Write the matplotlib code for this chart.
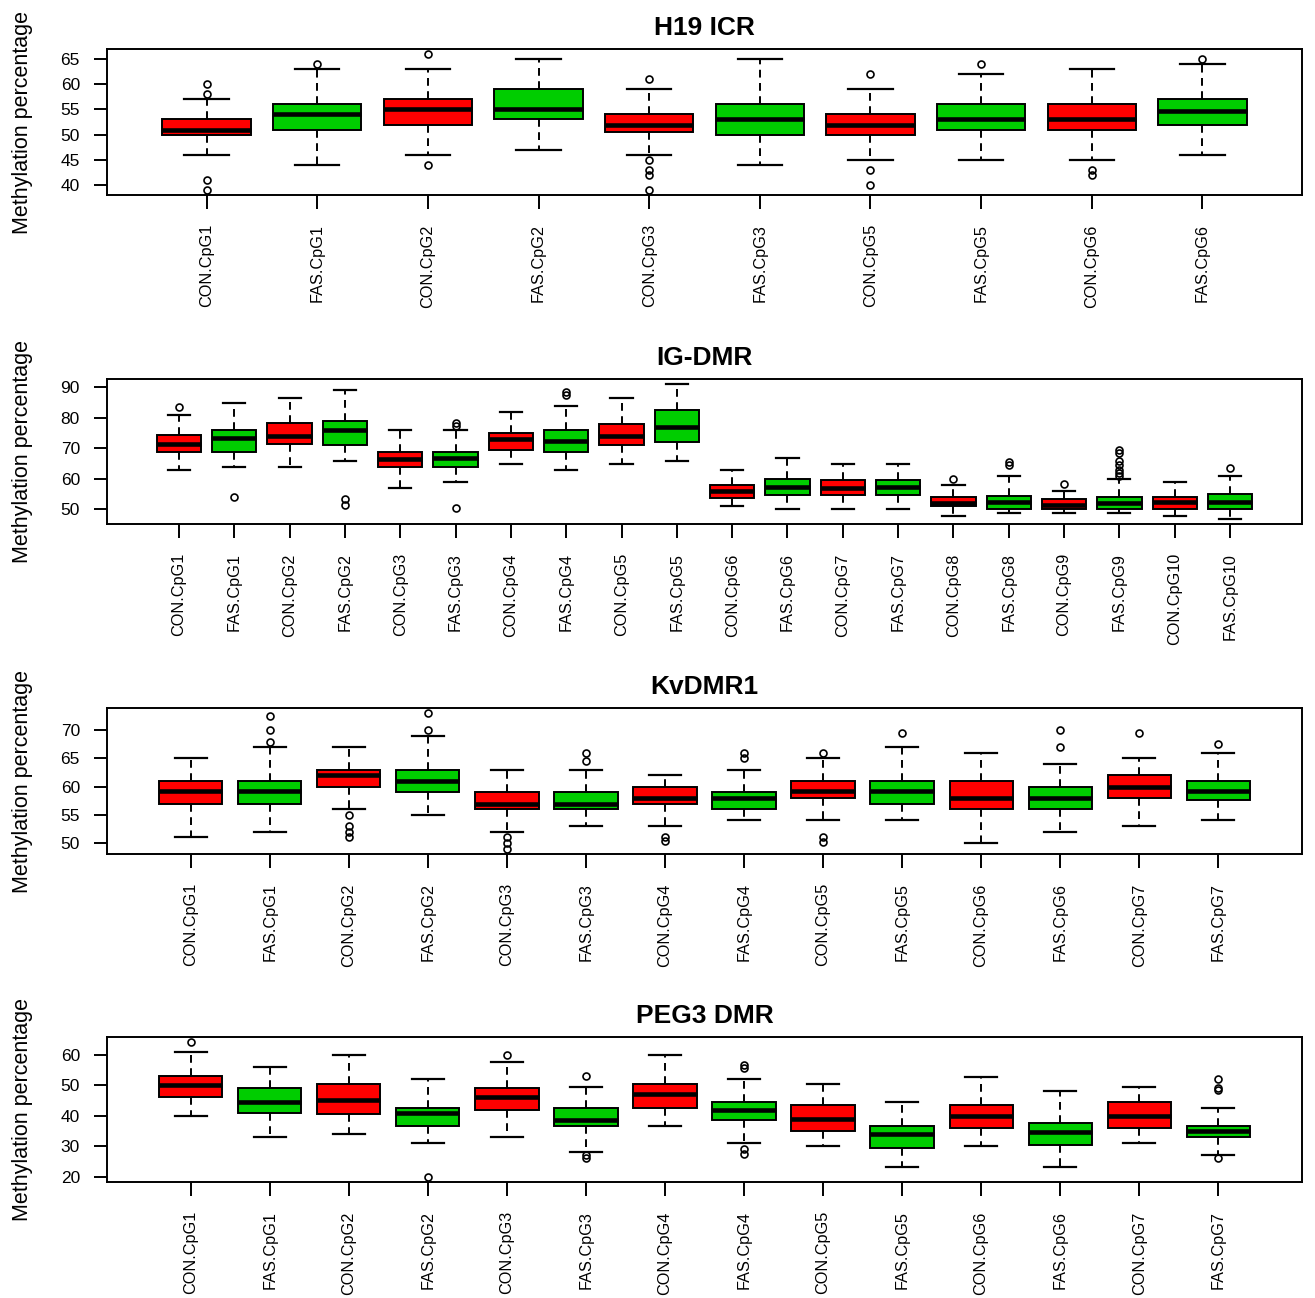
import matplotlib
matplotlib.use('Agg')
import matplotlib.pyplot as plt
from matplotlib.ticker import MultipleLocator

plt.rcParams['font.family'] = ['Liberation Sans', 'DejaVu Sans']

RED = '#FF0000'
GREEN = '#00CD00'

# ---------------- H19 ICR ----------------
h19_labels = ['CON.CpG1', 'FAS.CpG1', 'CON.CpG2', 'FAS.CpG2', 'CON.CpG3',
              'FAS.CpG3', 'CON.CpG5', 'FAS.CpG5', 'CON.CpG6', 'FAS.CpG6']
h19_whislo = [46, 44, 46, 47, 46, 44, 45, 45, 45, 46]
h19_q1 = [50, 51, 52, 53, 50.5, 50, 50, 51, 51, 52]
h19_med = [51, 54, 55, 55, 52, 53, 52, 53, 53, 54.7]
h19_q3 = [53, 56, 57, 59, 54, 56, 54, 56, 56, 57]
h19_whishi = [57, 63, 63, 65, 59, 65, 59, 62, 63, 64]
h19_fliers = [[60, 58, 41, 39], [64], [66, 44], [], [61, 45, 43, 42, 39],
              [], [62, 43, 40], [64], [43, 42], [65]]

# ---------------- IG-DMR ----------------
ig_labels = ['CON.CpG1', 'FAS.CpG1', 'CON.CpG2', 'FAS.CpG2', 'CON.CpG3',
             'FAS.CpG3', 'CON.CpG4', 'FAS.CpG4', 'CON.CpG5', 'FAS.CpG5',
             'CON.CpG6', 'FAS.CpG6', 'CON.CpG7', 'FAS.CpG7', 'CON.CpG8',
             'FAS.CpG8', 'CON.CpG9', 'FAS.CpG9', 'CON.CpG10', 'FAS.CpG10']
ig_whislo = [63, 64, 64, 66, 57, 59, 65, 63, 65, 66, 51, 50, 50, 50, 48, 49, 49, 49, 48, 47]
ig_q1 = [69, 69, 71.5, 71, 64, 64, 69.5, 69, 71, 72, 53.7, 54.7, 54.7, 54.7, 51, 50, 50, 50, 50, 50]
ig_med = [71.5, 73.5, 74, 76, 66.5, 67, 73, 72.5, 74, 77, 56, 57.5, 57, 57.5, 52, 52.5, 51.5, 52, 52.5, 52.5]
ig_q3 = [74.5, 76, 78.5, 79, 69, 69, 75, 76, 78, 82.5, 58, 60, 59.5, 59.5, 54, 54.5, 53.5, 54, 54, 55]
ig_whishi = [81, 85, 86.5, 89, 76, 76, 82, 84, 86.5, 91, 63, 67, 65, 65, 58, 61, 56, 60, 59, 61]
ig_fliers = [[83.5], [54], [], [53.5, 51.5], [], [78.5, 77.5, 50.5], [], [88.5, 87.5],
             [], [], [], [], [], [], [60], [65.5, 64.5], [58.5],
             [69.5, 68.5, 66, 64.5, 63, 62, 61], [], [63.5]]

# ---------------- KvDMR1 ----------------
kv_labels = ['CON.CpG1', 'FAS.CpG1', 'CON.CpG2', 'FAS.CpG2', 'CON.CpG3',
             'FAS.CpG3', 'CON.CpG4', 'FAS.CpG4', 'CON.CpG5', 'FAS.CpG5',
             'CON.CpG6', 'FAS.CpG6', 'CON.CpG7', 'FAS.CpG7']
kv_whislo = [51, 52, 56, 55, 52, 53, 53, 54, 54, 54, 50, 52, 53, 54]
kv_q1 = [57, 57, 60, 59, 56, 56, 57, 56, 58, 57, 56, 56, 58, 57.7]
kv_med = [59.3, 59.3, 62, 61, 57, 57, 58, 58, 59.3, 59.3, 58, 58, 60, 59.3]
kv_q3 = [61, 61, 63, 63, 59, 59, 60, 59, 61, 61, 61, 60, 62, 61]
kv_whishi = [65, 67, 67, 69, 63, 63, 62, 63, 65, 67, 66, 64, 65, 66]
kv_fliers = [[], [72.5, 70, 68], [55, 53, 52, 51], [73, 70], [51, 50, 49],
             [66, 64.5], [51, 50.3], [66, 65], [66, 51, 50.2], [69.5],
             [], [70, 67], [69.5], [67.5]]

# ---------------- PEG3 DMR ----------------
peg_labels = ['CON.CpG1', 'FAS.CpG1', 'CON.CpG2', 'FAS.CpG2', 'CON.CpG3',
              'FAS.CpG3', 'CON.CpG4', 'FAS.CpG4', 'CON.CpG5', 'FAS.CpG5',
              'CON.CpG6', 'FAS.CpG6', 'CON.CpG7', 'FAS.CpG7']
peg_whislo = [40, 33, 34, 31, 33, 28, 36.5, 31, 30, 23, 30, 23, 31, 27]
peg_q1 = [46, 41, 40.5, 36.5, 42, 36.5, 42.5, 38.5, 35, 29.5, 36, 30.5, 36, 33]
peg_med = [50, 44.5, 45, 41, 46, 38.5, 47, 42, 39, 34, 40, 34.5, 40, 35]
peg_q3 = [53, 49, 50.5, 42.5, 49, 42.5, 50.5, 44.5, 43.5, 36.5, 43.5, 37.5, 44.5, 36.5]
peg_whishi = [61, 56, 60, 52, 57.5, 49.5, 60, 52, 50.5, 44.5, 52.5, 48, 49.5, 42.5]
peg_fliers = [[64], [], [], [20], [60], [53, 27, 26], [], [56.5, 55.5, 29, 27.5],
              [], [], [], [], [], [52, 49, 48.3, 26]]

panels = [
    ('H19 ICR', h19_labels, h19_whislo, h19_q1, h19_med, h19_q3, h19_whishi, h19_fliers, 5),
    ('IG-DMR', ig_labels, ig_whislo, ig_q1, ig_med, ig_q3, ig_whishi, ig_fliers, 10),
    ('KvDMR1', kv_labels, kv_whislo, kv_q1, kv_med, kv_q3, kv_whishi, kv_fliers, 5),
    ('PEG3 DMR', peg_labels, peg_whislo, peg_q1, peg_med, peg_q3, peg_whishi, peg_fliers, 10),
]

W, H = 1315, 1298
fig = plt.figure(figsize=(W / 100, H / 100), dpi=100)
rows_px = [(49, 195), (379, 524), (708, 854), (1037, 1182)]
left_px, right_px = 107, 1302

for (top, bot), (title, labels, wlo, q1, med, q3, whi, fl, step) in zip(rows_px, panels):
    ax = fig.add_axes([left_px / W, 1 - bot / H, (right_px - left_px) / W, (bot - top) / H])
    stats = []
    for i in range(len(labels)):
        stats.append(dict(label=labels[i], whislo=wlo[i], q1=q1[i], med=med[i],
                          q3=q3[i], whishi=whi[i], fliers=fl[i]))
    n = len(labels)
    bp = ax.bxp(stats, positions=list(range(1, n + 1)), widths=0.8, patch_artist=True,
                boxprops=dict(linewidth=1.4, edgecolor='black'),
                medianprops=dict(color='black', linewidth=3.3, solid_capstyle='butt'),
                whiskerprops=dict(color='black', linewidth=1.4, linestyle=(0, (4, 2.8))),
                capprops=dict(color='black', linewidth=1.6),
                flierprops=dict(marker='o', markersize=5, markerfacecolor='none',
                                markeredgecolor='black', markeredgewidth=1.2))
    for lab, patch in zip(labels, bp['boxes']):
        patch.set_facecolor(RED if lab.startswith('CON') else GREEN)

    allv = list(wlo) + list(whi) + [v for f in fl for v in f]
    lo, hi = min(allv), max(allv)
    d = (hi - lo) * 0.04
    ax.set_ylim(lo - d, hi + d)
    ax.set_xlim(0.5 - 0.04 * n, n + 0.5 + 0.04 * n)
    ax.yaxis.set_major_locator(MultipleLocator(step))
    ax.set_xticks(list(range(1, n + 1)))
    ax.set_xticklabels(labels, rotation=90, fontsize=11.7)
    ax.tick_params(axis='x', direction='out', length=10, width=1.4, pad=11)
    ax.tick_params(axis='y', direction='out', length=9.5, width=1.4, pad=10, labelsize=12.5)
    for s in ax.spines.values():
        s.set_linewidth(1.4)
    ax.set_title(title, fontsize=19, fontweight='bold', pad=10)
    ax.set_ylabel('Methylation percentage', fontsize=15.5)
    ax.yaxis.set_label_coords(-0.062, 0.5)

fig.savefig('out.png', dpi=100)
